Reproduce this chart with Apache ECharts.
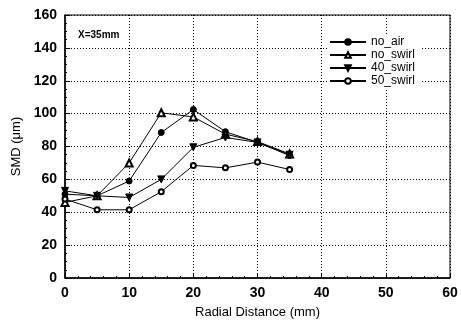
<!DOCTYPE html>
<html>
<head>
<meta charset="utf-8">
<script src="https://cdn.jsdelivr.net/npm/echarts@6/dist/echarts.min.js"></script>
<style>
  html, body { margin: 0; padding: 0; background: #fff; }
  #chart { width: 461px; height: 327px; }
</style>
</head>
<body>
<div id="chart"></div>
<script>
// radial positions (mm)
const radial = [0, 5, 10, 15, 20, 25, 30, 35]
// SMD values (um)
const noAir = [51, 50, 59, 88.5, 102.5, 89, 82.5, 74.5]
const noSwirl = [46, 50, 70, 100.5, 98, 87.5, 83, 75.5]
const swirl40 = [53, 50, 49, 60, 79.5, 85.5, 82.5, 75]
const swirl50 = [48, 41.5, 41.5, 52.5, 68.5, 67, 70.5, 66]
const xTicks = [0, 10, 20, 30, 40, 50, 60]
const yTicks = [0, 20, 40, 60, 80, 100, 120, 140, 160]

const pairs = arr => radial.map((x, i) => [x, arr[i]])

const chart = echarts.init(document.getElementById('chart'))

const lineSeries = (name, data, symbol, size, rotate) => ({
  name: name,
  type: 'line',
  data: pairs(data),
  symbol: symbol,
  symbolSize: size,
  symbolRotate: rotate || 0,
  showAllSymbol: true,
  lineStyle: { color: '#000', width: 1 },
  itemStyle: { color: '#000', borderColor: '#000', borderWidth: 1 },
  emphasis: { disabled: true },
  z: 3
})

const dotted = { color: '#000', width: 1, type: [1, 2] }

chart.setOption({
  animation: false,
  backgroundColor: '#fff',
  textStyle: { fontFamily: 'Liberation Sans, Arial, sans-serif' },
  grid: {
    left: 65,
    right: 11,
    top: 15,
    bottom: 49,
    show: true,
    borderColor: '#000',
    borderWidth: 1
  },
  legend: {
    right: 40,
    top: 34,
    orient: 'vertical',
    itemGap: 1,
    itemWidth: 36,
    itemHeight: 7,
    backgroundColor: '#fff',
    padding: [2, 6, 2, 2],
    textStyle: { color: '#000', fontSize: 12 },
    data: ['no_air', 'no_swirl', '40_swirl', '50_swirl']
  },
  graphic: [{
    type: 'text',
    left: 78,
    top: 30,
    style: { text: 'X=35mm', font: 'bold 10px Liberation Sans, Arial', fill: '#000' }
  }],
  xAxis: {
    type: 'value',
    min: xTicks[0],
    max: xTicks[xTicks.length - 1],
    interval: 10,
    name: 'Radial Distance (mm)',
    nameLocation: 'middle',
    nameGap: 28,
    nameTextStyle: { color: '#000', fontSize: 13 },
    axisLine: { lineStyle: { color: '#000', width: 1.5 } },
    axisTick: { inside: true, length: 5, lineStyle: { color: '#000' } },
    minorTick: { show: true, splitNumber: 5, length: 2, lineStyle: { color: '#000' } },
    axisLabel: { color: '#000', fontSize: 14, fontWeight: 'bold', margin: 8 },
    splitLine: { show: true, lineStyle: dotted }
  },
  yAxis: {
    type: 'value',
    min: yTicks[0],
    max: yTicks[yTicks.length - 1],
    interval: 20,
    name: 'SMD (μm)',
    nameLocation: 'middle',
    nameGap: 40,
    nameTextStyle: { color: '#000', fontSize: 13 },
    axisLine: { show: true, lineStyle: { color: '#000', width: 1.5 } },
    axisTick: { show: true, inside: true, length: 5, lineStyle: { color: '#000' } },
    minorTick: { show: true, splitNumber: 4, length: 2, lineStyle: { color: '#000' } },
    axisLabel: { color: '#000', fontSize: 14, fontWeight: 'bold', margin: 8 },
    splitLine: { show: true, lineStyle: dotted }
  },
  series: [
    lineSeries('no_air', noAir, 'circle', 6),
    lineSeries('no_swirl', noSwirl, 'emptyTriangle', 7),
    lineSeries('40_swirl', swirl40, 'triangle', 7, 180),
    lineSeries('50_swirl', swirl50, 'emptyCircle', 5)
  ]
})
</script>
</body>
</html>
